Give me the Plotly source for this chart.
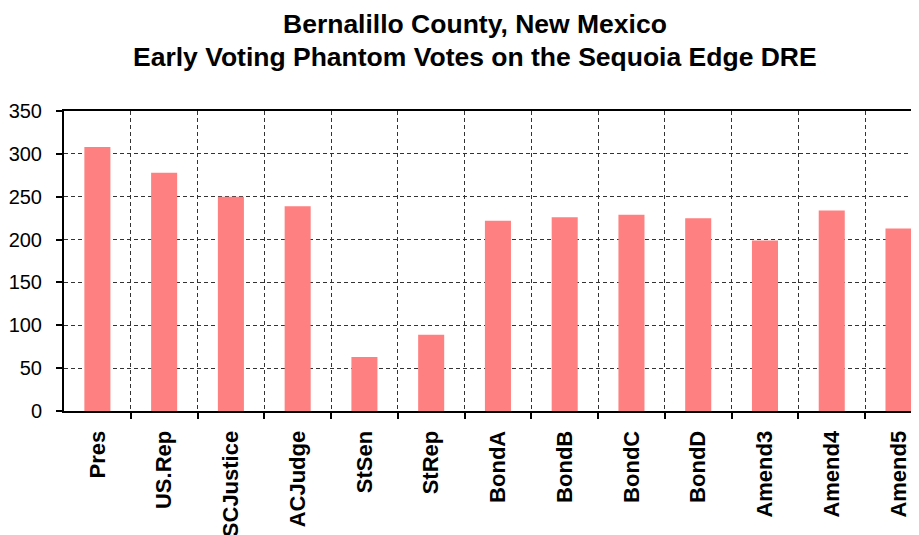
import plotly.graph_objects as go

categories = ["Pres", "US.Rep", "SCJustice", "ACJudge", "StSen", "StRep", "BondA",
              "BondB", "BondC", "BondD", "Amend3", "Amend4", "Amend5"]
votes = [308, 278, 250, 239, 63, 89, 222, 226, 229, 225, 199, 234, 213]
y_ticks = [0, 50, 100, 150, 200, 250, 300, 350]
title_lines = ["Bernalillo County, New Mexico",
               "Early Voting Phantom Votes on the Sequoia Edge DRE"]

positions = list(range(len(categories)))
boundaries = [p + 0.5 for p in positions]

# page body has an 8px margin; compensate so the drawing lands like the reference
OFF = 8
W, H = 919 - OFF, 535 - OFF
ml, mt = 64 - OFF, 111 - OFF
mb = H - (411 - OFF)
plot_h = H - mt - mb
cat_px = 66.76
x_hi = (W - ml) / cat_px - 0.5

fig = go.Figure(go.Bar(
    x=positions, y=votes,
    marker=dict(color="#FF8080", line=dict(width=0)),
    width=0.39,
))

title_centers_px = [24 - OFF, 57 - OFF]
for line, cy in zip(title_lines, title_centers_px):
    fig.add_annotation(
        text="<b>%s</b>" % line,
        xref="paper", yref="paper",
        x=(475 - OFF - ml) / (W - ml), y=1 + (mt - cy) / plot_h,
        xanchor="center", yanchor="middle",
        showarrow=False,
        font=dict(family="Liberation Sans", size=26.5, color="black"),
    )

fig.update_layout(
    width=W, height=H,
    margin=dict(l=ml, r=0, t=mt, b=mb, pad=0),
    plot_bgcolor="white", paper_bgcolor="white",
    showlegend=False,
    xaxis=dict(
        range=[-0.5, x_hi],
        tickmode="array", tickvals=positions,
        ticktext=["<b>%s</b>" % c for c in categories],
        tickangle=-90,
        tickfont=dict(family="Liberation Sans", size=22, color="black"),
        ticks="outside", ticklen=9, tickcolor="rgba(0,0,0,0)",
        showgrid=False, zeroline=False, automargin=False,
        showline=True, linecolor="black", linewidth=2, mirror=True,
        minor=dict(
            tickmode="array", tickvals=boundaries,
            ticks="outside", ticklen=6, tickcolor="black", tickwidth=2,
            showgrid=True, gridcolor="#333333", gridwidth=1, griddash="4px,3px",
        ),
        fixedrange=True,
    ),
    yaxis=dict(
        range=[0, 350],
        tickmode="array", tickvals=y_ticks,
        tickfont=dict(family="Liberation Sans", size=20, color="black"),
        ticks="outside", ticklen=6, tickcolor="black", tickwidth=2,
        ticklabelstandoff=10,
        showgrid=True, gridcolor="#333333", gridwidth=1, griddash="4px,3px",
        zeroline=False, automargin=False,
        showline=True, linecolor="black", linewidth=2,
        fixedrange=True,
    ),
)

fig.write_html("out.html")
